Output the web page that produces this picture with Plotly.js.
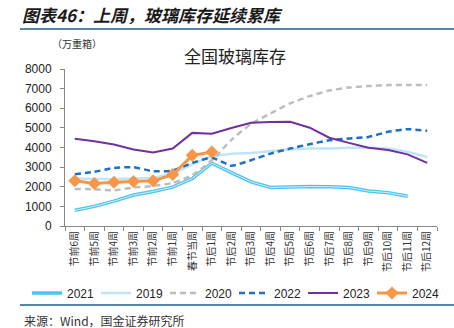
<!DOCTYPE html>
<html><head><meta charset="utf-8">
<script src="https://cdn.plot.ly/plotly-3.0.1.min.js"></script>
<style>html,body{margin:0;padding:0;background:#fff}#chart{width:454px;height:328px}</style>
</head><body><div id="chart"></div>
<script>
const categories = ['节前6周','节前5周','节前4周','节前3周','节前2周','节前1周','春节当周','节后1周','节后2周','节后3周','节后4周','节后5周','节后6周','节后7周','节后8周','节后9周','节后10周','节后11周','节后12周'];
const v2021 = [800,1000,1270,1580,1760,1980,2420,3200,2720,2250,1960,2000,2010,2000,1960,1780,1700,1520,null];
const v2019 = [2420,2400,2380,2420,2460,2650,3150,3550,3680,3725,3830,3910,3950,3950,3990,4000,3950,3780,3520];
const v2020 = [1890,1870,1820,1960,2040,2195,2590,3350,4390,5200,5740,6245,6620,6900,7060,7130,7180,7180,7180];
const v2022 = [2640,2760,2960,2995,2790,2825,3215,3480,3070,3350,3690,3945,4170,4370,4455,4540,4800,4935,4850];
const v2023 = [4440,4320,4150,3900,3745,3950,4745,4705,4990,5265,5300,5306,5010,4500,4235,3990,3870,3650,3214];
const v2024 = [2300,2160,2230,2265,2300,2620,3600,3775];
const seriesNames = ['2021','2019','2020','2022','2023','2024'];

const PL=65, PR=437, PT=69, PB=226;
const W=PR-PL, H=PB-PT;
const px = x => (x-PL)/W;
const py = y => (PB-y)/H;

const traces = [
  {x:categories, y:v2021, name:seriesNames[0], mode:'lines', line:{color:'#4EC2F0', width:3.5}},
  {x:categories, y:v2021, name:seriesNames[0], mode:'lines', line:{color:'#D4F0FC', width:1}, showlegend:false, hoverinfo:'skip'},
  {x:categories, y:v2019, name:seriesNames[1], mode:'lines', line:{color:'#BFE4F7', width:2.5}},
  {x:categories, y:v2020, name:seriesNames[2], mode:'lines', line:{color:'#BDBDBD', width:2.5, dash:'6px,4px', shape:'spline', smoothing:0.6}},
  {x:categories, y:v2022, name:seriesNames[3], mode:'lines', line:{color:'#1E70C1', width:2.5, dash:'6px,4px', shape:'spline', smoothing:0.5}},
  {x:categories, y:v2023, name:seriesNames[4], mode:'lines', line:{color:'#7030A0', width:2}},
  {x:categories.slice(0, v2024.length), y:v2024, name:seriesNames[5], mode:'lines+markers', line:{color:'#F79646', width:3}, marker:{symbol:'diamond', size:10, color:'#F79646'}}
];

const LC = '#1F5F8B';
const layout = {
  width:454, height:328,
  margin:{l:PL, r:454-PR, t:PT, b:328-PB, pad:0},
  paper_bgcolor:'#fff', plot_bgcolor:'#fff',
  font:{family:'"Liberation Sans", Arial, "Noto Sans CJK SC", sans-serif', size:12, color:'#222'},
  showlegend:true,
  legend:{orientation:'h', x:px(27), xanchor:'left', y:py(278.5), yanchor:'top',
    font:{size:12, family:'"Liberation Sans", Arial, sans-serif', color:'#222'},
    entrywidth:24, entrywidthmode:'pixels', tracegroupgap:0, bgcolor:'rgba(0,0,0,0)'},
  xaxis:{type:'category', range:[-0.5, categories.length-0.5], tickson:'boundaries', ticks:'outside', ticklen:4,
    tickcolor:'#888', showline:true, linecolor:'#888', linewidth:1, showgrid:false, zeroline:false,
    tickangle:-90, tickfont:{size:10, family:'"Noto Sans CJK SC", sans-serif', color:'#333'}, fixedrange:true},
  yaxis:{range:[0,8000], dtick:1000, ticks:'outside', ticklen:4, tickcolor:'#888', showline:true, linecolor:'#888',
    linewidth:1, showgrid:false, zeroline:false, tickfont:{size:12, color:'#222'}, ticklabelstandoff:6, fixedrange:true},
  shapes:[
    {type:'line', xref:'paper', yref:'paper', x0:px(20), x1:px(454), y0:py(29), y1:py(29), line:{color:LC, width:1.5}},
    {type:'line', xref:'paper', yref:'paper', x0:px(20), x1:px(454), y0:py(305), y1:py(305), line:{color:LC, width:1.5}}
  ],
  annotations:[
    {text:'图表46：上周，玻璃库存延续累库', xref:'paper', yref:'paper', x:px(20), y:py(14), xanchor:'left', yanchor:'middle', showarrow:false,
      font:{family:'"Noto Sans CJK SC", sans-serif', size:17, weight:'bold', style:'italic', color:'#1a1a1a'}},
    {text:'（万重箱）', xref:'paper', yref:'paper', x:px(50), y:py(43), xanchor:'left', yanchor:'middle', showarrow:false,
      font:{family:'"Noto Sans CJK SC", sans-serif', size:10, color:'#333'}},
    {text:'全国玻璃库存', xref:'paper', yref:'paper', x:px(235), y:py(55), xanchor:'center', yanchor:'middle', showarrow:false,
      font:{family:'"Noto Sans CJK SC", sans-serif', size:17, color:'#222'}},
    {text:'来源：Wind，国金证券研究所', xref:'paper', yref:'paper', x:px(22), y:py(320.5), xanchor:'left', yanchor:'middle', showarrow:false,
      font:{family:'"Noto Sans CJK SC", "DejaVu Sans Mono", sans-serif', size:12, color:'#333'}}
  ]
};
Plotly.newPlot('chart', traces, layout, {displayModeBar:false, staticPlot:true});
</script></body></html>
